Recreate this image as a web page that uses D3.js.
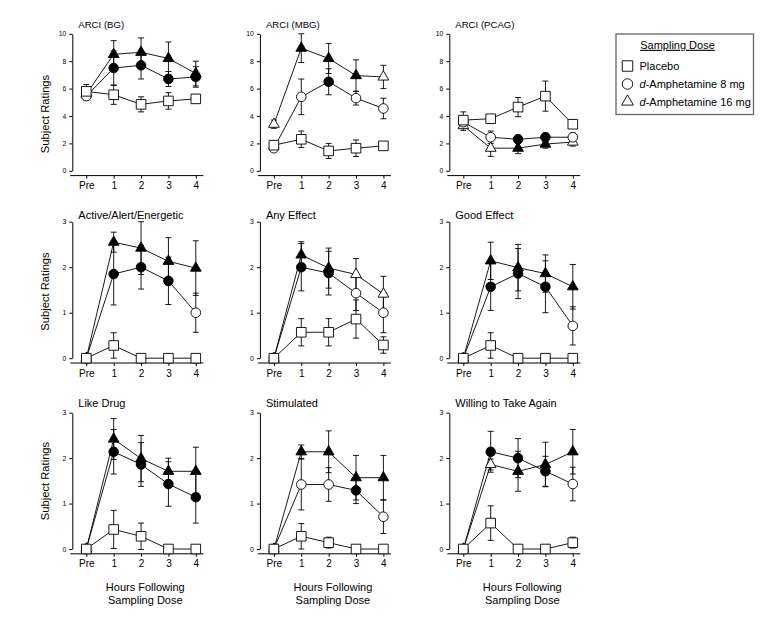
<!DOCTYPE html>
<html>
<head>
<meta charset="utf-8">
<script src="https://cdn.jsdelivr.net/npm/d3@7"></script>
<style>
  html, body { margin: 0; padding: 0; background: #fff; }
  svg { display: block; font-family: "Liberation Sans", Arial, sans-serif; }
</style>
</head>
<body>
<svg id="chart" width="763" height="619"></svg>
<script>
// ---------------- DATA ----------------
const timepoints = ["Pre", "1", "2", "3", "4"];
const seriesNames = ["Placebo", "d-Amphetamine 8 mg", "d-Amphetamine 16 mg"];
const panelTitles = ["ARCI (BG)", "ARCI (MBG)", "ARCI (PCAG)",
  "Active/Alert/Energetic", "Any Effect", "Good Effect",
  "Like Drug", "Stimulated", "Willing to Take Again"];
const yTicksArci = [0, 2, 4, 6, 8, 10];
const yTicksVas = [0, 1, 2, 3];

// means per panel: [placebo, 8 mg, 16 mg]
const meanBG = [[5.8, 5.55, 4.85, 5.1, 5.25], [5.45, 7.5, 7.7, 6.7, 6.85], [5.6, 8.5, 8.65, 8.2, 7.1]];
const semBG = [[0.5, 0.7, 0.55, 0.6, 0.3], [0.3, 1.25, 1.0, 0.55, 0.75], [0.4, 1.0, 1.05, 1.2, 0.9]];
const sigBG = [[0, 0, 0, 0, 0], [0, 1, 1, 1, 1], [0, 1, 1, 1, 1]];

const meanMBG = [[1.87, 2.3, 1.45, 1.65, 1.82], [1.65, 5.4, 6.5, 5.3, 4.55], [3.4, 8.95, 8.2, 6.95, 6.85]];
const semMBG = [[0.3, 0.6, 0.55, 0.6, 0.2], [0.2, 1.3, 0.95, 0.5, 0.75], [0.3, 1.05, 1.1, 1.15, 0.85]];
const sigMBG = [[0, 0, 0, 0, 0], [0, 0, 1, 0, 0], [0, 1, 1, 1, 0]];

const meanPCAG = [[3.7, 3.8, 4.65, 5.45, 3.4], [3.55, 2.45, 2.3, 2.45, 2.45], [3.3, 1.65, 1.65, 1.95, 2.1]];
const semPCAG = [[0.6, 0.3, 0.7, 1.1, 0.3], [0.4, 0.45, 0.3, 0.3, 0.3], [0.35, 0.6, 0.4, 0.3, 0.3]];
const sigPCAG = [[0, 0, 0, 0, 0], [0, 0, 1, 1, 0], [0, 0, 1, 1, 0]];

const meanActive = [[0, 0.28, 0, 0, 0], [0, 1.85, 2.0, 1.7, 1.0], [0, 2.55, 2.42, 2.13, 1.98]];
const semActive = [[0, 0.28, 0, 0, 0], [0, 0.68, 0.48, 0.52, 0.43], [0, 0.22, 0.58, 0.52, 0.6]];
const sigActive = [[0, 0, 0, 0, 0], [0, 1, 1, 1, 0], [0, 1, 1, 1, 1]];

const meanAny = [[0, 0.57, 0.57, 0.86, 0.29], [0, 2.0, 1.87, 1.43, 1.0], [0, 2.27, 1.98, 1.84, 1.41]];
const semAny = [[0, 0.3, 0.3, 0.42, 0.18], [0, 0.52, 0.48, 0.38, 0.44], [0, 0.29, 0.44, 0.35, 0.39]];
const sigAny = [[0, 0, 0, 0, 0], [0, 1, 1, 0, 0], [0, 1, 1, 0, 0]];

const meanGood = [[0, 0.28, 0, 0, 0], [0, 1.57, 1.86, 1.57, 0.71], [0, 2.14, 1.99, 1.86, 1.57]];
const semGood = [[0, 0.28, 0, 0, 0], [0, 0.52, 0.55, 0.57, 0.42], [0, 0.41, 0.51, 0.41, 0.49]];
const sigGood = [[0, 0, 0, 0, 0], [0, 1, 1, 1, 0], [0, 1, 1, 1, 1]];

const meanLike = [[0, 0.43, 0.28, 0, 0], [0, 2.14, 1.86, 1.43, 1.14], [0, 2.42, 1.99, 1.71, 1.71]];
const semLike = [[0, 0.42, 0.29, 0, 0], [0, 0.49, 0.48, 0.49, 0.57], [0, 0.45, 0.51, 0.29, 0.53]];
const sigLike = [[0, 0, 0, 0, 0], [0, 1, 1, 1, 1], [0, 1, 1, 1, 1]];

const meanStim = [[0, 0.28, 0.14, 0, 0], [0, 1.42, 1.42, 1.29, 0.71], [0, 2.14, 2.14, 1.57, 1.57]];
const semStim = [[0, 0.28, 0.12, 0, 0], [0, 0.56, 0.37, 0.29, 0.37], [0, 0.15, 0.46, 0.49, 0.49]];
const sigStim = [[0, 0, 0, 0, 0], [0, 0, 0, 1, 0], [0, 1, 1, 1, 1]];

const meanWilling = [[0, 0.57, 0, 0, 0.14], [0, 2.14, 2.0, 1.71, 1.43], [0, 1.86, 1.71, 1.86, 2.14]];
const semWilling = [[0, 0.38, 0, 0, 0.12], [0, 0.45, 0.43, 0.33, 0.37], [0, 0.12, 0.44, 0.49, 0.49]];
const sigWilling = [[0, 0, 0, 0, 0], [0, 1, 1, 1, 0], [0, 0, 1, 1, 1]];

const panelMeans = [meanBG, meanMBG, meanPCAG, meanActive, meanAny, meanGood, meanLike, meanStim, meanWilling];
const panelSems = [semBG, semMBG, semPCAG, semActive, semAny, semGood, semLike, semStim, semWilling];
const panelSig = [sigBG, sigMBG, sigPCAG, sigActive, sigAny, sigGood, sigLike, sigStim, sigWilling];

// ---------------- LAYOUT ----------------
const colX = [72.3, 259.9, 449.3];
const rowTop = [33.8, 221.7, 412.7];
const rowZero = [170.8, 358.2, 549.0];
const titleSize = [9.6, 11, 11];
const titleDy = [-5.4, -2.8, -5.5];
const ylabelY = [114, 291.5, 481];
const FONT = '"Liberation Sans", Arial, sans-serif';

const svg = d3.select("#chart");

function markerPath(shape, size) {
  if (shape === 0) { const h = size / 2; return `M${-h},${-h}H${h}V${h}H${-h}Z`; }
  if (shape === 1) { return d3.symbol().type(d3.symbolCircle).size(Math.PI * (size / 2) ** 2)(); }
  const s = size * 1.12, h = s * 0.866;
  return `M0,${-h * 2 / 3}L${s / 2},${h / 3}L${-s / 2},${h / 3}Z`;
}

panelTitles.forEach((title, p) => {
  const r = Math.floor(p / 3), c = p % 3;
  const ax = colX[c];
  const g = svg.append("g");
  const y = d3.scaleLinear().domain(r === 0 ? [0, 10] : [0, 3]).range([rowZero[r], rowTop[r]]);
  const x = d3.scalePoint().domain(timepoints).range([ax + 14, ax + 123.5]);
  const baseY = rowZero[r] + 4.8;

  // y axis
  const yAxis = d3.axisLeft(y).tickValues(r === 0 ? yTicksArci : yTicksVas).tickFormat(d3.format("d"))
    .tickSize(3).tickSizeOuter(0).tickPadding(3);
  const yg = g.append("g").attr("transform", `translate(${ax},0)`).call(yAxis);
  yg.selectAll("text").attr("font-size", 6.8).attr("font-family", FONT).attr("fill", "#000");
  yg.selectAll("line,path").attr("stroke", "#000").attr("stroke-width", 1);

  // x axis
  g.append("line").attr("x1", ax - 2).attr("x2", ax + 131).attr("y1", baseY).attr("y2", baseY)
    .attr("stroke", "#000").attr("stroke-width", 1);
  const xAxis = d3.axisBottom(x).tickSize(3).tickPadding(3.5);
  const xg = g.append("g").attr("transform", `translate(0,${baseY})`).call(xAxis);
  xg.select(".domain").remove();
  xg.selectAll("text").attr("font-size", 10).attr("font-family", FONT).attr("fill", "#000");
  xg.selectAll("line").attr("stroke", "#000");

  // title
  g.append("text").attr("x", ax + 6).attr("y", rowTop[r] + titleDy[r])
    .attr("font-size", titleSize[r]).attr("font-family", FONT).text(title);

  // y label
  if (c === 0) {
    g.append("text").attr("transform", `translate(49,${ylabelY[r]}) rotate(-90)`)
      .attr("text-anchor", "middle").attr("font-size", 11.2).attr("font-family", FONT).text("Subject Ratings");
  }
  if (r === 2) {
    g.append("text").attr("x", ax + 73).attr("y", 591).attr("text-anchor", "middle")
      .attr("font-size", 11).attr("font-family", FONT).text("Hours Following");
    g.append("text").attr("x", ax + 73).attr("y", 603.5).attr("text-anchor", "middle")
      .attr("font-size", 11).attr("font-family", FONT).text("Sampling Dose");
  }

  const means = panelMeans[p], sems = panelSems[p], sig = panelSig[p];
  const order = [2, 1, 0];
  const line = d3.line().x((d, i) => x(timepoints[i])).y(d => y(d));
  // lines
  order.forEach(s => {
    g.append("path").attr("d", line(means[s])).attr("fill", "none").attr("stroke", "#000").attr("stroke-width", 0.9);
  });
  // error bars
  order.forEach(s => {
    means[s].forEach((m, i) => {
      const e = sems[s][i];
      if (!e) return;
      const cx = x(timepoints[i]);
      const y1 = y(m - e), y2 = y(m + e);
      g.append("line").attr("x1", cx).attr("x2", cx).attr("y1", y1).attr("y2", y2).attr("stroke", "#000").attr("stroke-width", 0.9);
      [y1, y2].forEach(yy => g.append("line").attr("x1", cx - 3).attr("x2", cx + 3).attr("y1", yy).attr("y2", yy)
        .attr("stroke", "#000").attr("stroke-width", 0.9));
    });
  });
  // markers
  order.forEach(s => {
    means[s].forEach((m, i) => {
      g.append("path").attr("d", markerPath(s, 9.6))
        .attr("transform", `translate(${x(timepoints[i])},${y(m)})`)
        .attr("fill", sig[s][i] ? "#000" : "#fff").attr("stroke", "#000").attr("stroke-width", 0.9);
    });
  });
});

// ---------------- LEGEND ----------------
const lg = svg.append("g");
lg.append("rect").attr("x", 616).attr("y", 34).attr("width", 137.5).attr("height", 80.5)
  .attr("fill", "#fff").attr("stroke", "#666").attr("stroke-width", 1.3);
lg.append("text").attr("x", 677.5).attr("y", 48.8).attr("text-anchor", "middle")
  .attr("font-size", 11).attr("font-family", FONT).attr("text-decoration", "underline").text("Sampling Dose");
const legendY = [66, 84, 101.7];
seriesNames.forEach((name, s) => {
  lg.append("path").attr("d", markerPath(s, 10.5)).attr("transform", `translate(627.5,${legendY[s]})`)
    .attr("fill", "#fff").attr("stroke", "#000").attr("stroke-width", 0.9);
  const t = lg.append("text").attr("x", 639.5).attr("y", legendY[s] + 3.9).attr("font-size", 11).attr("font-family", FONT);
  if (name.startsWith("d-")) {
    t.append("tspan").attr("font-style", "italic").text("d");
    t.append("tspan").text(name.slice(1));
  } else {
    t.text(name);
  }
});
</script>
</body>
</html>
